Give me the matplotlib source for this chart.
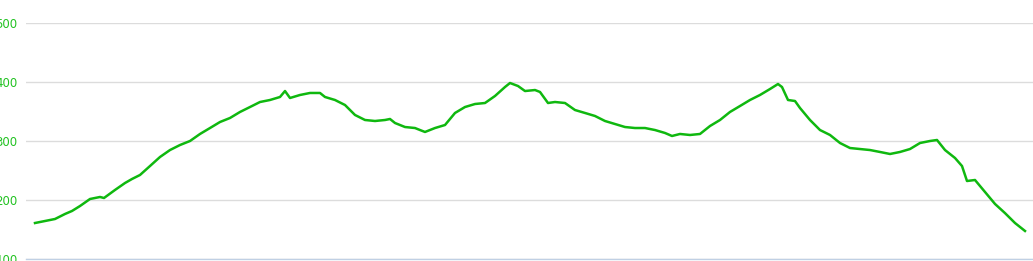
import matplotlib
matplotlib.use("Agg")
import matplotlib.pyplot as plt

# elevation profile (distance in km, elevation in m)
distance = [0.0, 1.0, 2.0, 3.0, 3.7, 4.5, 5.5, 6.5, 6.9, 8.0, 9.0, 9.7, 10.5,
            11.5, 12.5, 13.5, 14.5, 15.5, 16.5, 17.5, 18.5, 19.5, 20.5, 21.5,
            22.5, 23.5, 24.5, 25.0, 25.5, 26.5, 27.5, 28.5, 29.0, 30.0, 31.0,
            32.0, 33.0, 34.0, 35.0, 35.5, 36.0, 37.0, 38.0, 38.5, 39.0, 40.0,
            41.0, 42.0, 43.0, 44.0, 45.0, 46.0, 47.0, 47.5, 48.3, 49.0, 50.0,
            50.5, 51.3, 52.0, 53.0, 54.0, 55.0, 56.0, 57.0, 58.0, 59.0, 60.0,
            61.0, 62.0, 63.0, 63.7, 64.5, 65.5, 66.5, 67.5, 68.5, 69.5, 70.5,
            71.5, 72.5, 73.5, 74.3, 74.7, 75.3, 76.0, 76.5, 77.5, 78.5, 79.5,
            80.5, 81.5, 82.5, 83.5, 84.5, 85.5, 86.5, 87.5, 88.5, 89.5, 90.2,
            91.0, 92.0, 92.7, 93.2, 94.0, 95.0, 96.0, 97.0, 98.0, 99.0]
elevation = [161.0, 164.4, 167.8, 176.3, 181.4, 189.8, 201.7, 205.1, 203.4,
             217.0, 228.8, 235.6, 242.4, 257.6, 272.9, 284.7, 293.2, 300.0,
             311.9, 322.0, 332.2, 339.0, 349.2, 357.6, 366.1, 369.5, 374.6,
             384.7, 372.9, 378.0, 381.4, 381.4, 374.6, 369.5, 361.0, 344.1,
             335.6, 333.9, 335.6, 337.3, 330.5, 323.7, 322.0, 318.6, 315.3,
             322.0, 327.1, 347.5, 357.6, 362.7, 364.4, 376.3, 391.5, 398.3,
             393.2, 384.7, 386.4, 383.1, 364.4, 366.1, 364.4, 352.5, 347.5,
             342.4, 333.9, 328.8, 323.7, 322.0, 322.0, 318.6, 313.6, 308.5,
             311.9, 310.2, 311.9, 325.4, 335.6, 349.2, 359.3, 369.5, 378.0,
             388.1, 396.6, 391.5, 369.5, 367.8, 355.9, 335.6, 318.6, 310.2,
             296.6, 288.1, 286.4, 284.7, 281.4, 278.0, 281.4, 286.4, 296.6,
             300.0, 301.7, 284.7, 271.2, 257.6, 232.2, 233.9, 213.6, 193.3,
             177.8, 161.0, 147.5]
yticks = [100, 200, 300, 400, 500]

W, H = 1033, 261
fig = plt.figure(figsize=(W / 100, H / 100), dpi=100)
ax = fig.add_axes([26 / W, (H - 259) / H, 1 - 26 / W, (259 - 23) / H])

ax.plot(distance, elevation, color="#0fb80f", linewidth=1.8,
        solid_joinstyle="round", clip_on=False, zorder=3)

ax.set_xlim(-0.9, 99.8)
ax.set_ylim(100, 500)
ax.set_yticks(yticks)
ax.set_yticklabels([str(v) for v in yticks])
ax.set_xticks([])
ax.grid(axis="y", color="#dcdcdc", linewidth=1)
ax.tick_params(axis="y", length=0, pad=6, labelsize=8.5, labelcolor="#22c222")
for s in ["top", "right", "left"]:
    ax.spines[s].set_visible(False)
ax.spines["bottom"].set_color("#c0d0e4")
ax.spines["bottom"].set_linewidth(1)

plt.savefig("out.png", dpi=100)
